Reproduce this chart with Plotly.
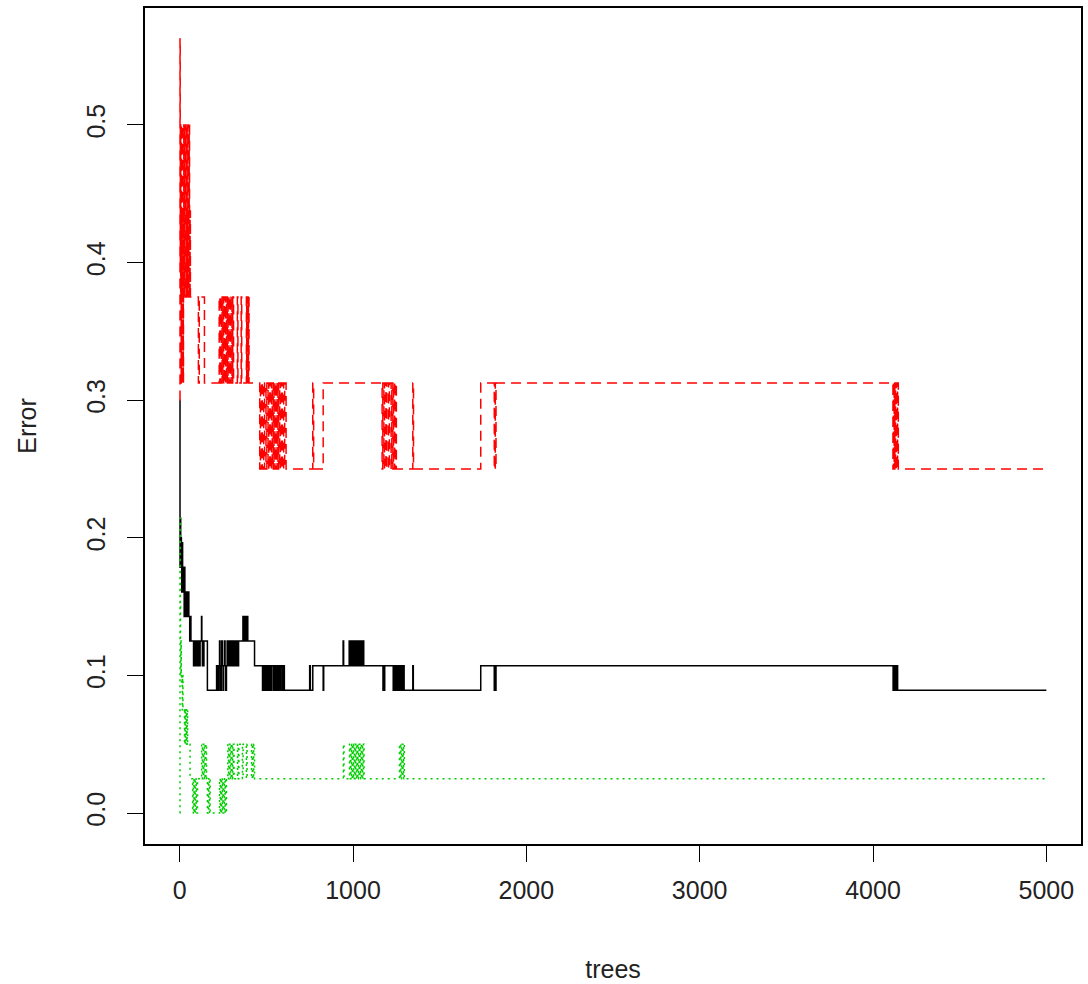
import plotly.graph_objects as go

# ---- data: change points (tree index, error) of the step curves ----
oob_trees = [1, 2, 3, 4, 5, 6, 7, 8, 9, 10, 11, 12, 13, 14, 15, 16, 17, 18, 19, 20, 22, 24, 26, 28, 30,
             32, 34, 36, 38, 40, 42, 44, 46, 48, 50, 53,
             58, 62, 65, 80, 83, 86, 89, 92, 96, 100, 105, 110, 118, 126, 128, 131, 134, 137, 140, 160,
             213, 216, 220, 223, 227, 230, 233, 236, 240, 243, 246, 250, 254, 258, 262, 266, 270, 274,
             278, 283, 287, 292, 296, 301, 305, 310, 315, 320, 325, 330, 336, 340,
             365, 369, 373, 378, 382, 386, 390, 393, 432,
             478, 482, 488, 493, 500, 505, 512, 517, 525, 530, 540, 545, 552, 557, 565, 570, 578, 583,
             592, 597, 604, 609, 750, 754, 768, 828, 831, 943, 946,
             978, 982, 986, 990, 994, 998, 1002, 1006, 1010, 1014, 1018, 1022, 1026, 1030, 1034, 1038,
             1042, 1046, 1050, 1054, 1058, 1062, 1066,
             1173, 1176, 1179, 1183, 1232, 1236, 1240, 1244, 1248, 1252, 1256, 1260, 1265, 1270, 1275,
             1280, 1286, 1290, 1295, 1345, 1348, 1737, 1815, 1818, 1821, 1825,
             4116, 4120, 4125, 4129, 4133, 4137, 4142, 5000]
oob_err = [0.3, 0.1786, 0.2143, 0.1964, 0.2143, 0.1786, 0.1964, 0.1786, 0.2, 0.1786, 0.1964, 0.1607, 0.1964, 0.1786, 0.1607, 0.1964, 0.1607, 0.1786, 0.1607, 0.1786, 0.1607, 0.1786, 0.1429, 0.1786, 0.1607,
           0.1429, 0.1607, 0.1429, 0.1607, 0.1429, 0.1607, 0.1429, 0.1607, 0.1429, 0.1607, 0.1429,
           0.125, 0.1429, 0.125, 0.1071, 0.125, 0.1071, 0.125, 0.1071, 0.125, 0.1071, 0.125, 0.1071, 0.125, 0.1429, 0.125, 0.1071, 0.125, 0.1071, 0.125, 0.0893,
           0.1071, 0.0893, 0.1071, 0.0893, 0.1071, 0.125, 0.1071, 0.0893, 0.1071, 0.125, 0.1071, 0.0893, 0.1071, 0.125, 0.1071, 0.0893, 0.1071, 0.125,
           0.1071, 0.125, 0.1071, 0.125, 0.1071, 0.125, 0.1071, 0.125, 0.1071, 0.125, 0.1071, 0.125, 0.1071, 0.125,
           0.1429, 0.125, 0.1429, 0.125, 0.1429, 0.125, 0.1429, 0.125, 0.1071,
           0.0893, 0.1071, 0.0893, 0.1071, 0.0893, 0.1071, 0.0893, 0.1071, 0.0893, 0.1071, 0.0893, 0.1071, 0.0893, 0.1071, 0.0893, 0.1071, 0.0893, 0.1071,
           0.0893, 0.1071, 0.0893, 0.0893, 0.1071, 0.0893, 0.1071, 0.0893, 0.1071, 0.125, 0.1071,
           0.125, 0.1071, 0.125, 0.1071, 0.125, 0.1071, 0.125, 0.1071, 0.125, 0.1071, 0.125, 0.1071, 0.125, 0.1071, 0.125, 0.1071,
           0.125, 0.1071, 0.125, 0.1071, 0.125, 0.1071, 0.1071,
           0.0893, 0.1071, 0.0893, 0.1071, 0.0893, 0.1071, 0.0893, 0.1071, 0.0893, 0.1071, 0.0893, 0.1071, 0.0893, 0.1071, 0.0893,
           0.1071, 0.0893, 0.1071, 0.0893, 0.1071, 0.0893, 0.1071, 0.0893, 0.1071, 0.0893, 0.1071,
           0.0893, 0.1071, 0.0893, 0.1071, 0.0893, 0.1071, 0.0893, 0.0893]

class1_trees = [1, 2, 3, 4, 5, 6, 7, 8, 9, 10, 12, 13, 15, 16, 18, 19, 21, 22, 24, 26, 27, 29, 31, 33, 35,
                37, 39, 41, 43, 45, 47, 49, 51, 53, 55, 57, 60, 62,
                108, 113, 143, 228, 232, 236, 240, 245, 249, 254, 258, 262, 266, 270, 275, 279, 284, 288,
                293, 297, 302, 306, 311, 333, 336, 355, 358, 385, 387, 389, 391, 393, 395, 397, 400,
                462, 466, 472, 477, 485, 490, 498, 503, 510, 514, 520, 524, 530, 534, 540, 544, 549, 553,
                558, 562, 567, 571, 577, 581, 588, 593, 600, 606, 614, 768, 773, 828,
                1168, 1172, 1178, 1182, 1190, 1195, 1205, 1210, 1220, 1224, 1230, 1234, 1240, 1244, 1250,
                1345, 1349, 1737, 1815, 1818, 1821, 1825,
                4115, 4118, 4122, 4126, 4130, 4134, 4138, 4142, 4146, 5000]
class1_err = [0.3, 0.5625, 0.5, 0.4, 0.5, 0.375, 0.4286, 0.3125, 0.4375, 0.5, 0.375, 0.4375, 0.3125, 0.375, 0.5, 0.4375, 0.3125, 0.4375, 0.5, 0.375, 0.4375, 0.5, 0.375, 0.4375, 0.5,
              0.4375, 0.375, 0.5, 0.4375, 0.375, 0.5, 0.4375, 0.375, 0.4375, 0.5, 0.375, 0.4375, 0.375,
              0.3125, 0.375, 0.3125, 0.375, 0.3125, 0.375, 0.3125, 0.375, 0.3125, 0.375, 0.3125, 0.375, 0.3125, 0.375, 0.3125, 0.375, 0.3125, 0.375,
              0.3125, 0.375, 0.3125, 0.375, 0.3125, 0.375, 0.3125, 0.375, 0.3125, 0.375, 0.3125, 0.375, 0.3125, 0.375, 0.3125, 0.375, 0.3125,
              0.25, 0.3125, 0.25, 0.3125, 0.25, 0.3125, 0.25, 0.3125, 0.25, 0.3125, 0.25, 0.3125, 0.25, 0.3125, 0.25, 0.3125, 0.25, 0.3125,
              0.25, 0.3125, 0.25, 0.3125, 0.25, 0.3125, 0.25, 0.3125, 0.25, 0.3125, 0.25, 0.3125, 0.25, 0.3125,
              0.25, 0.3125, 0.25, 0.3125, 0.25, 0.3125, 0.25, 0.3125, 0.25, 0.3125, 0.25, 0.3125, 0.25, 0.3125, 0.25,
              0.3125, 0.25, 0.3125, 0.25, 0.3125, 0.25, 0.3125,
              0.25, 0.3125, 0.25, 0.3125, 0.25, 0.3125, 0.25, 0.3125, 0.25, 0.25]

class2_trees = [1, 2, 3, 4, 5, 6, 8, 9, 11, 13, 15, 17, 19, 22, 25, 28, 31, 34, 37, 40, 43, 46, 60,
                75, 79, 83, 87, 91, 95, 99, 103, 127, 131, 135, 139, 143, 147, 151, 155, 160, 164, 168,
                172, 176, 230, 234, 238, 242, 246, 250, 254, 258, 262, 266, 270, 278, 282, 286, 290, 294,
                298, 302, 306, 310, 314, 334, 338, 342, 362, 366, 385, 389, 415, 419, 423, 427, 432,
                944, 948, 980, 984, 988, 992, 996, 1000, 1004, 1008, 1012, 1016, 1020, 1024, 1028, 1032,
                1036, 1040, 1044, 1048, 1052, 1056, 1060, 1064,
                1268, 1272, 1276, 1280, 1284, 1288, 1292, 1296, 5000]
class2_err = [0.0, 0.2143, 0.1667, 0.15, 0.125, 0.1, 0.125, 0.1, 0.0952, 0.1, 0.075, 0.1, 0.075, 0.075, 0.075, 0.05, 0.075, 0.05, 0.075, 0.05, 0.075, 0.05, 0.025,
              0.0, 0.025, 0.0, 0.025, 0.0, 0.025, 0.0, 0.025, 0.05, 0.025, 0.05, 0.025, 0.05, 0.025, 0.05, 0.025, 0.0, 0.025, 0.0,
              0.025, 0.0, 0.025, 0.0, 0.025, 0.0, 0.025, 0.0, 0.025, 0.0, 0.025, 0.0, 0.025, 0.05, 0.025, 0.05, 0.025, 0.05,
              0.025, 0.05, 0.025, 0.05, 0.025, 0.05, 0.025, 0.05, 0.025, 0.05, 0.025, 0.05, 0.025, 0.05, 0.025, 0.05, 0.025,
              0.05, 0.025, 0.05, 0.025, 0.05, 0.025, 0.05, 0.025, 0.05, 0.025, 0.05, 0.025, 0.05, 0.025, 0.05, 0.025,
              0.05, 0.025, 0.05, 0.025, 0.05, 0.025, 0.05, 0.025,
              0.05, 0.025, 0.05, 0.025, 0.05, 0.025, 0.05, 0.025, 0.025]

x_ticks = [0, 1000, 2000, 3000, 4000, 5000]
y_ticks = [0.0, 0.1, 0.2, 0.3, 0.4, 0.5]
y_tick_labels = ["0.0", "0.1", "0.2", "0.3", "0.4", "0.5"]

FONT = "Liberation Sans, Arial, sans-serif"
TEXT = "#222222"

fig = go.Figure()
fig.add_trace(go.Scatter(x=oob_trees, y=oob_err, mode="lines", name="OOB",
                         line=dict(color="black", width=1.5, shape="hv")))
fig.add_trace(go.Scatter(x=class1_trees, y=class1_err, mode="lines", name="1",
                         line=dict(color="#FF0000", width=1.5, shape="hv", dash="10px,6px")))
fig.add_trace(go.Scatter(x=class2_trees, y=class2_err, mode="lines", name="2",
                         line=dict(color="#00CD00", width=1.5, shape="hv", dash="2px,4px")))

fig.update_layout(
    width=1088, height=984,
    margin=dict(l=145, r=5, t=8, b=139),
    paper_bgcolor="white", plot_bgcolor="white",
    showlegend=False,
    font=dict(family=FONT, size=25, color=TEXT),
)
fig.update_xaxes(
    range=[-199.96, 5199.96], tickvals=x_ticks, ticktext=[str(v) for v in x_ticks],
    showgrid=False, zeroline=False, showline=True, mirror=True, linecolor="black", linewidth=1.5,
    ticks="outside", ticklen=16, tickwidth=1.2, tickcolor="black", ticklabelstandoff=7,
    title=dict(text="trees", standoff=58, font=dict(size=25, color=TEXT)),
    tickfont=dict(size=25, color=TEXT),
)
fig.update_yaxes(
    range=[-0.0225, 0.585], tickvals=y_ticks, ticktext=y_tick_labels, tickangle=-90,
    showgrid=False, zeroline=False, showline=True, mirror=True, linecolor="black", linewidth=1.5,
    ticks="outside", ticklen=16, tickwidth=1.2, tickcolor="black", ticklabelstandoff=12,
    title=dict(text="Error", standoff=39, font=dict(size=25, color=TEXT)),
    tickfont=dict(size=25, color=TEXT),
)

fig.write_html("out.html", config={"displayModeBar": False},
               post_script="document.body.style.margin='0';")
